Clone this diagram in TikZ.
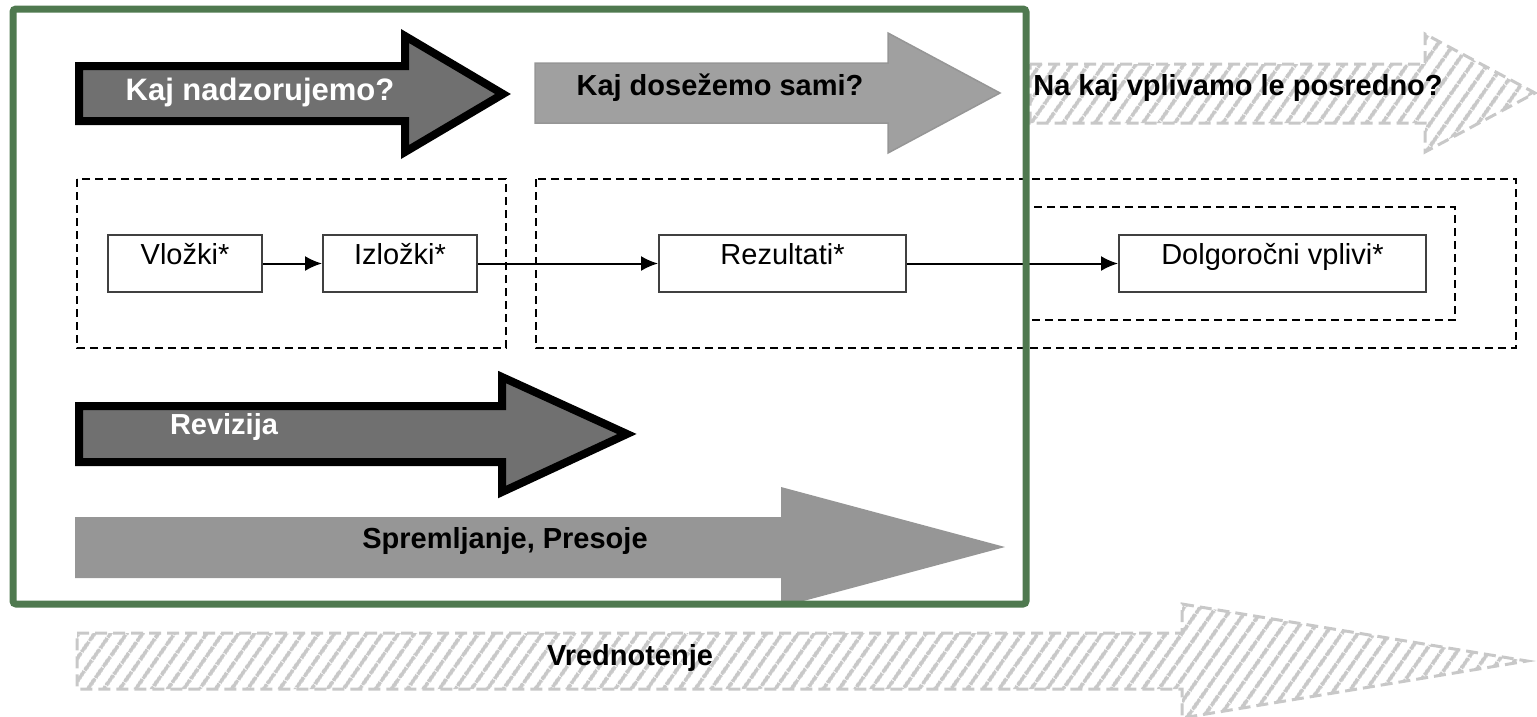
\documentclass[tikz,border=0pt]{standalone}
\usepackage{fontspec}
\setmainfont{Liberation Sans}
\usepackage{tikz}
\usetikzlibrary{positioning,arrows.meta,patterns.meta}
\definecolor{frameclr}{RGB}{79,121,79}
\definecolor{darkclr}{RGB}{112,112,112}
\definecolor{midclr}{RGB}{160,160,160}
\definecolor{lineclr}{RGB}{150,150,150}
\definecolor{hatchclr}{RGB}{200,200,200}
\definecolor{boxclr}{RGB}{64,64,64}
\tikzset{ %
  ,>={Latex[length=17pt,width=15pt]}
  ,big/.style={font=\fontsize{29}{34}\selectfont\bfseries, inner sep=0}
  ,box/.style={draw=boxclr, line width=2pt, inner sep=0, minimum width=154pt, text height=29pt, text depth=28pt, font=\fontsize{29}{34}\selectfont}
  ,zone/.style={draw, line width=2pt, dash pattern=on 8pt off 5pt}
  ,strong/.style={draw, line width=8pt, fill=darkclr}
  ,hatched/.style={draw=hatchclr, line width=3pt, dash pattern=on 12pt off 6pt, pattern={Lines[angle=55, distance=13pt, line width=4pt]}, pattern color=hatchclr}
}

\begin{document}
\begin{tikzpicture}[x=1pt, y=-1pt]
      \useasboundingbox (0,0) rectangle (1537,716);
      % big arrows
      \draw[hatched] (1030,64) -- (1425,64) -- (1425,34) -- (1535,93) -- (1425,152) -- (1425,123) -- (1030,123) -- cycle;
      \draw[hatched] (77,633) -- (1182,633) -- (1182,604) -- (1527,661) -- (1182,718) -- (1182,689) -- (77,689) -- cycle;
      \draw[strong] (79,66) -- (405,66) -- (405,36) -- (503,94) -- (405,152) -- (405,121) -- (79,121) -- cycle;
      \draw[draw=lineclr, line width=1.5pt, fill=midclr] (535,63) -- (888,63) -- (888,33) -- (1000,93) -- (888,153) -- (888,123) -- (535,123) -- cycle;
      \draw[strong] (79,406) -- (502,406) -- (502,377) -- (627,434) -- (502,492) -- (502,462) -- (79,462) -- cycle;
      \fill[lineclr] (75,517) -- (781,517) -- (781,487) -- (1005,547) -- (781,607) -- (781,578) -- (75,578) -- cycle;
      \draw
      node[big, text=white, font=\fontsize{31}{36}\selectfont\bfseries] (nadzor) at (260,92) {Kaj nadzorujemo?}
      node[big] (dosez) at (720,88) {Kaj dosežemo sami?}
      node[big] (posred) at (1238,88) {Na kaj vplivamo le posredno?}
      node[big, text=white] (reviz) at (224,427) {Revizija}
      node[big] (spreml) at (505,541) {Spremljanje, Presoje}
      node[big] (vredn) at (630,658) {Vrednotenje};
      % dashed groups
      \draw[zone] (77,179) rectangle (506,348);
      \draw[zone] (536,179) rectangle (1516,348);
      \draw[zone] (1028,207) rectangle (1455,320);
      % chain
      \draw
      node[box] (vlozki) at (185,263.5) {Vložki*}
      node[box, right=59pt of vlozki] (izlozki) {Izložki*}
      node[box, right=180pt of izlozki, minimum width=247pt] (rezult) {Rezultati*}
      node[box, right=211pt of rezult, minimum width=307pt] (dolgor) {Dolgoročni vplivi*};
      \draw [line width=2pt,->] (vlozki) edge (izlozki) (izlozki) edge (rezult) (rezult) edge (dolgor);
      \draw[frameclr, line width=7pt, rounded corners=3pt] (13,9) rectangle (1026,604);
    \end{tikzpicture}
\end{document}
